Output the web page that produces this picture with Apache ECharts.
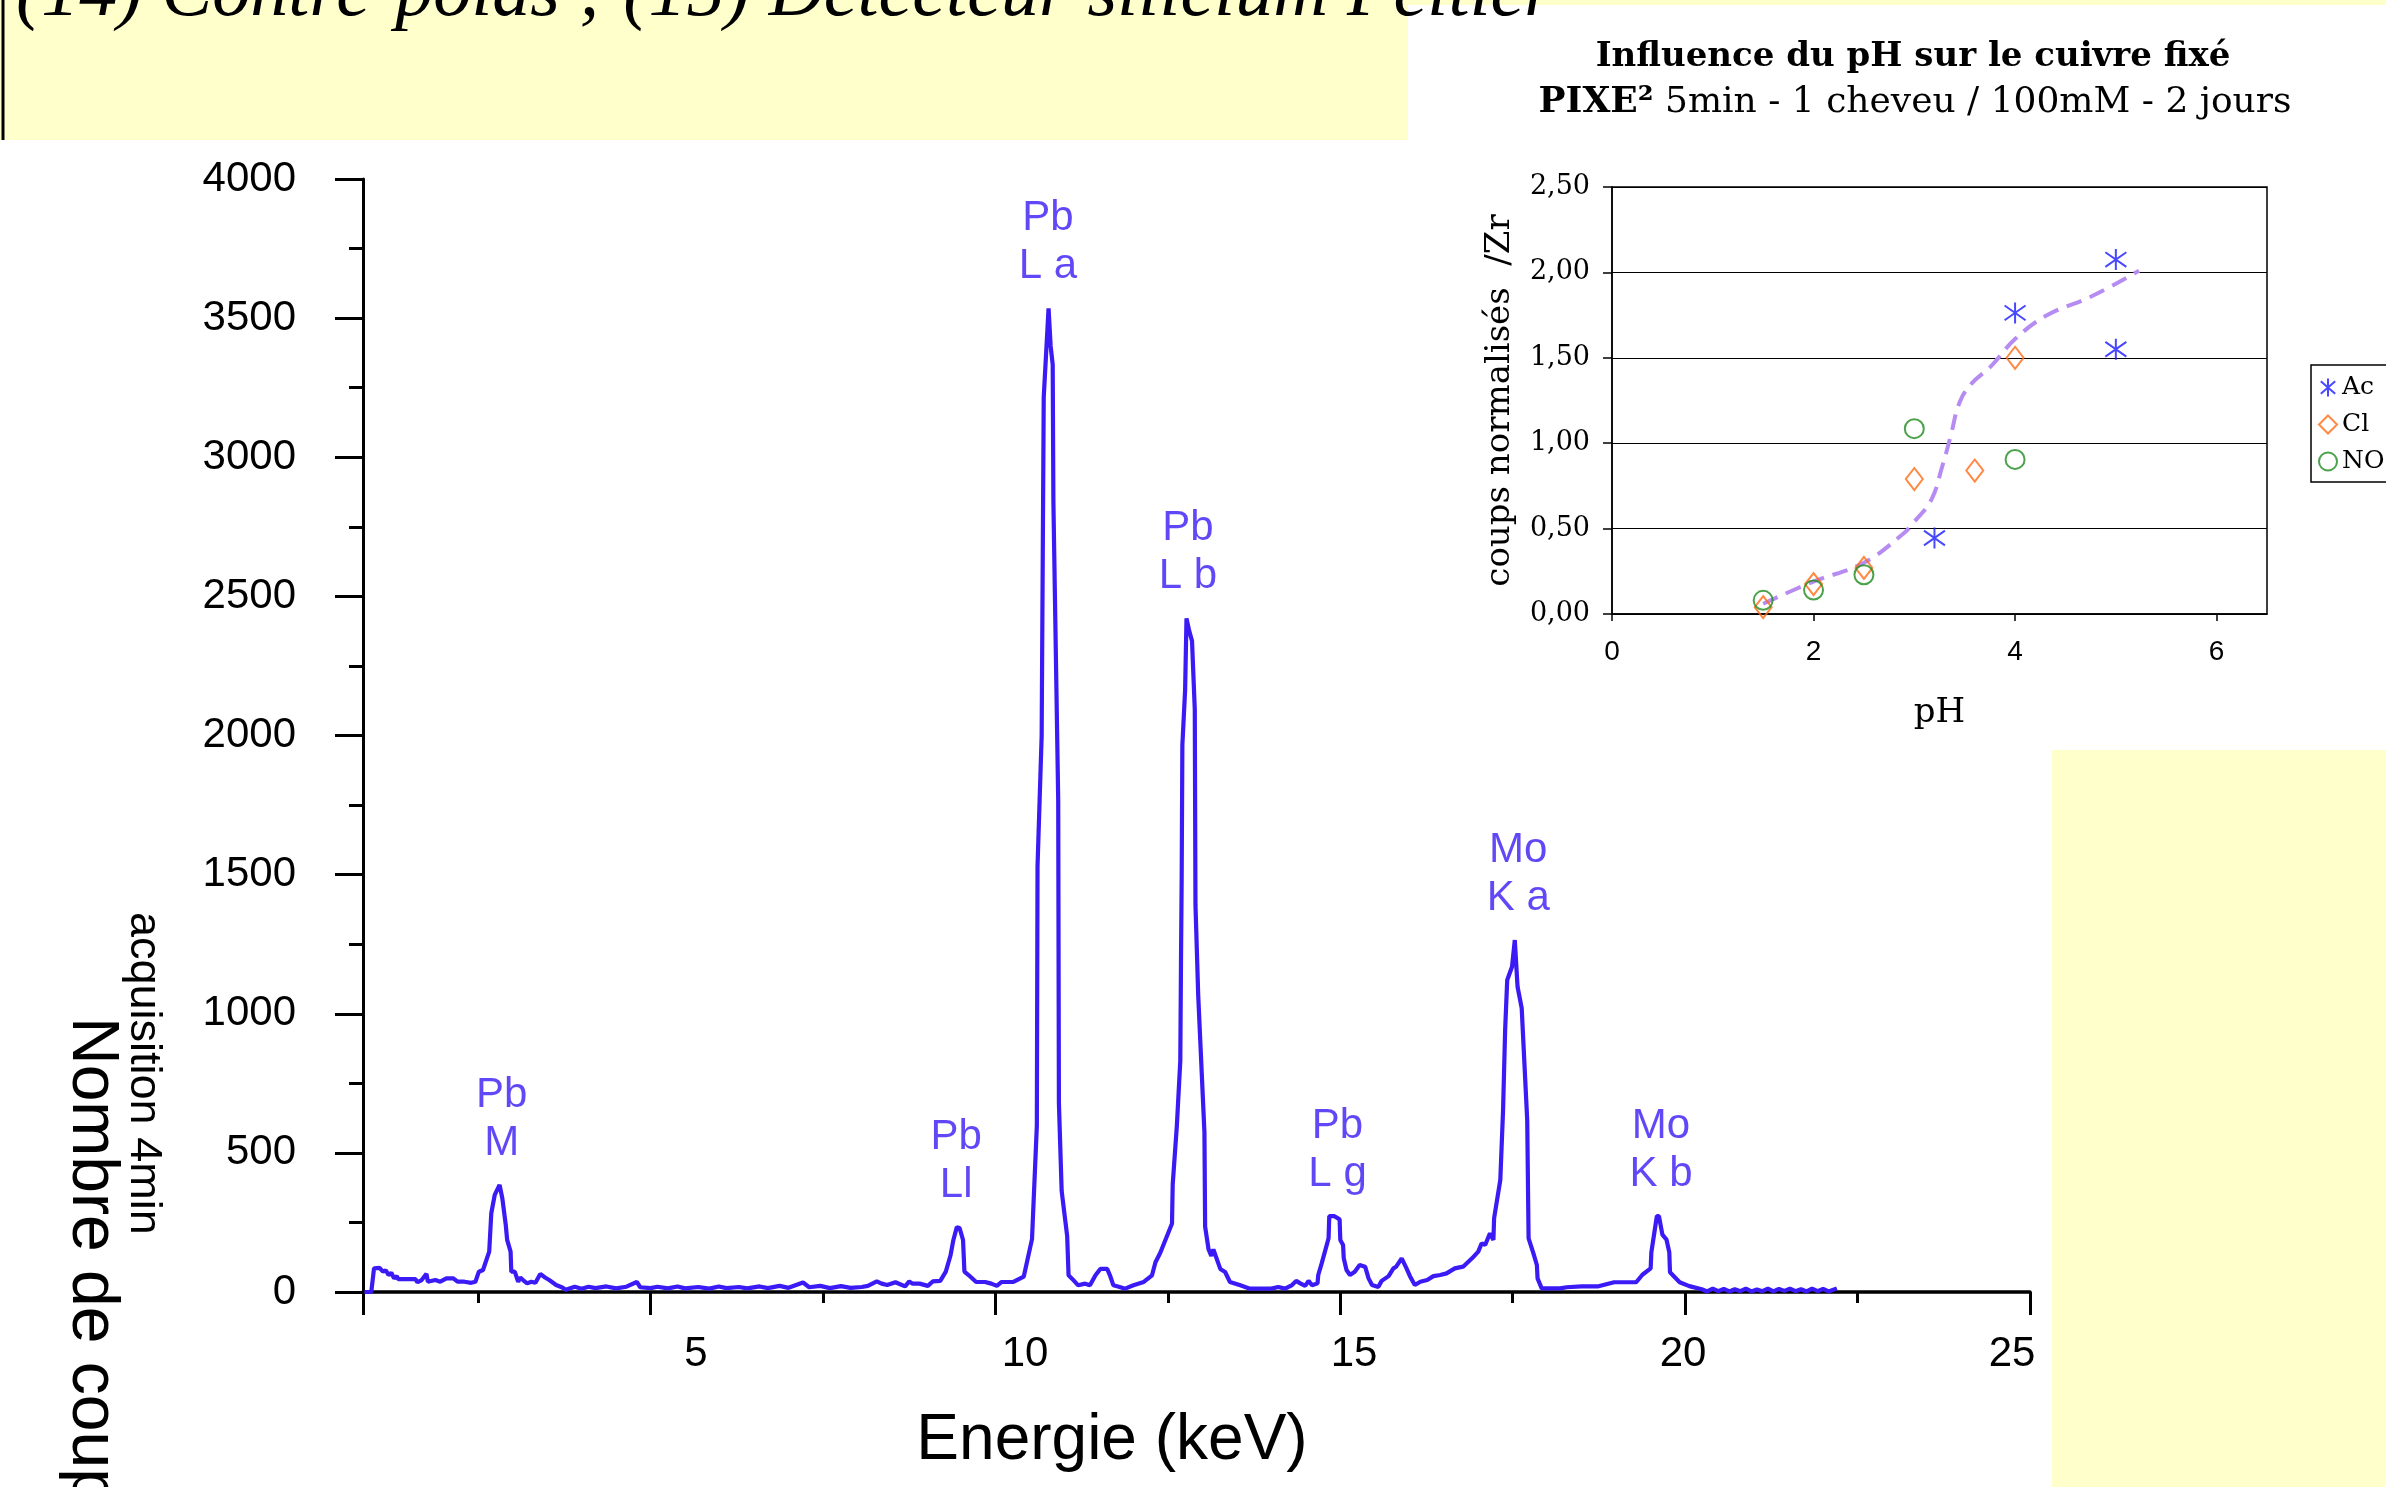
<!DOCTYPE html>
<html>
<head>
<meta charset="utf-8">
<script src="https://cdn.jsdelivr.net/npm/echarts@6/dist/echarts.min.js"></script>
<style>
  html, body { margin: 0; padding: 0; background: #fff; }
  #main { width: 2386px; height: 1487px; }
</style>
</head>
<body>
<div id="main"></div>
<script>
// spectre PIXE : energie (keV) / nombre de coups
var energy = [0.85, 0.95, 0.99, 1.07, 1.12, 1.16, 1.20, 1.24, 1.28, 1.32, 1.34, 1.45, 1.59, 1.62, 1.68, 1.75, 1.77, 1.88, 1.95, 2.04,
  2.14, 2.20, 2.30, 2.40, 2.46, 2.51, 2.57, 2.66, 2.69, 2.74, 2.81, 2.85, 2.90, 2.92, 2.97, 2.98, 3.03, 3.08, 3.11, 3.15,
  3.21, 3.27, 3.33, 3.40, 3.47, 3.53, 3.63, 3.72, 3.77, 3.90, 4.00, 4.10, 4.20, 4.36, 4.50, 4.65, 4.80, 4.85, 5.00, 5.10,
  5.25, 5.39, 5.50, 5.69, 5.85, 5.99, 6.10, 6.28, 6.40, 6.58, 6.70, 6.87, 7.00, 7.21, 7.30, 7.46, 7.60, 7.76, 7.90, 8.06,
  8.15, 8.28, 8.35, 8.43, 8.55, 8.69, 8.75, 8.80, 8.90, 9.02, 9.09, 9.20, 9.28, 9.35, 9.39, 9.44, 9.48, 9.53, 9.55, 9.61,
  9.72, 9.85, 9.94, 10.02, 10.09, 10.26, 10.41, 10.53, 10.60, 10.61, 10.67, 10.70, 10.77, 10.80, 10.83, 10.84, 10.91, 10.92, 10.96, 11.04,
  11.06, 11.11, 11.20, 11.30, 11.37, 11.45, 11.52, 11.62, 11.66, 11.71, 11.80, 11.88, 12.00, 12.15, 12.27, 12.32, 12.39, 12.56, 12.57, 12.63,
  12.68, 12.69, 12.70, 12.71, 12.75, 12.77, 12.81, 12.85, 12.89, 12.90, 12.94, 13.03, 13.04, 13.09, 13.13, 13.16, 13.26, 13.33, 13.40, 13.55,
  13.69, 13.84, 14.00, 14.10, 14.20, 14.30, 14.36, 14.42, 14.49, 14.54, 14.59, 14.67, 14.68, 14.73, 14.83, 14.84, 14.91, 14.99, 15.00, 15.04,
  15.05, 15.09, 15.14, 15.21, 15.28, 15.36, 15.41, 15.46, 15.55, 15.60, 15.70, 15.77, 15.81, 15.89, 15.96, 16.01, 16.08, 16.16, 16.26, 16.35,
  16.45, 16.54, 16.66, 16.78, 16.91, 17.00, 17.05, 17.10, 17.17, 17.22, 17.23, 17.32, 17.36, 17.39, 17.42, 17.49, 17.53, 17.57, 17.63, 17.71,
  17.73, 17.80, 17.85, 17.86, 17.92, 18.19, 18.28, 18.50, 18.73, 18.97, 19.29, 19.38, 19.50, 19.51, 19.56, 19.59, 19.62, 19.67, 19.73, 19.77,
  19.78, 19.92, 20.06, 20.24, 20.32, 20.40, 20.48, 20.56, 20.64, 20.72, 20.80, 20.88, 20.96, 21.04, 21.12, 21.20, 21.28, 21.36, 21.44, 21.52,
  21.60, 21.68, 21.76, 21.84, 21.92, 22.00, 22.08, 22.20];
var counts = [0, 0, 85, 87, 73, 78, 61, 69, 49, 57, 46, 46, 46, 35, 43, 65, 37, 43, 37, 49,
  49, 37, 37, 33, 37, 73, 79, 145, 283, 349, 385, 337, 241, 187, 145, 73, 73, 37, 52, 43,
  31, 37, 33, 65, 52, 43, 25, 16, 8, 19, 12, 19, 14, 20, 13, 19, 36, 17, 14, 19,
  13, 20, 13, 18, 12, 20, 14, 18, 13, 20, 14, 22, 15, 34, 17, 22, 14, 21, 15, 18,
  22, 38, 30, 25, 35, 20, 38, 30, 30, 22, 38, 40, 73, 133, 187, 233, 230, 187, 73, 61,
  36, 36, 30, 22, 36, 36, 55, 190, 597, 1530, 2000, 3216, 3535, 3400, 3333, 2843, 1766, 679, 363, 200,
  60, 48, 24, 30, 24, 60, 83, 83, 60, 24, 18, 12, 24, 36, 60, 107, 141, 246, 387, 597,
  831, 1182, 1486, 1965, 2164, 2421, 2375, 2340, 2094, 1392, 1065, 574, 235, 153, 130, 153, 83, 72, 36, 24,
  12, 12, 12, 18, 12, 25, 40, 31, 22, 40, 24, 31, 61, 103, 193, 273, 273, 261, 187, 169,
  121, 79, 61, 73, 97, 91, 49, 25, 18, 40, 57, 85, 91, 121, 85, 57, 25, 37, 43, 57,
  61, 67, 85, 91, 121, 145, 175, 169, 211, 187, 265, 403, 654, 942, 1121, 1169, 1265, 1097, 1020, 618,
  193, 139, 97, 49, 13, 13, 17, 20, 20, 35, 35, 62, 85, 143, 224, 273, 273, 206, 188, 143,
  71, 35, 21, 10, 2, 12, 3, 11, 2, 10, 3, 12, 2, 9, 3, 12, 2, 11, 4, 12,
  3, 10, 2, 12, 3, 11, 2, 13];

var peakNames = ['Pb\nM', 'Pb\nLl', 'Pb\nL a', 'Pb\nL b', 'Pb\nL g', 'Mo\nK a', 'Mo\nK b'];
var peakEnergy = [2.84, 9.43, 10.76, 12.79, 14.96, 17.58, 19.65];

var xMajorTicks = [0.83, 5, 10, 15, 20, 25];
var xMinorTicks = [2.5, 7.5, 12.5, 17.5, 22.5];
var xTickLabels = [5, 10, 15, 20, 25];
var yMinorTicks = [250, 750, 1250, 1750, 2250, 2750, 3250, 3750];

// encart : influence du pH
var phAc = [3.2, 4, 5, 5];
var valAc = [0.445, 1.763, 1.55, 2.075];
var phCl = [1.5, 2, 2.5, 3, 3.6, 4];
var valCl = [0.04, 0.175, 0.27, 0.79, 0.84, 1.50];
var phNO3 = [1.5, 2, 2.5, 3, 4];
var valNO3 = [0.08, 0.14, 0.23, 1.085, 0.905];
var phTrend = [1.5, 2.0, 2.5, 2.89, 3.0, 3.17, 3.28, 3.36, 3.45, 3.57, 3.76, 4.0, 4.32, 4.76, 5.23];
var valTrend = [0.06, 0.19, 0.30, 0.47, 0.54, 0.67, 0.87, 1.04, 1.24, 1.35, 1.45, 1.61, 1.75, 1.86, 2.01];
var phTicks = [0, 2, 4, 6];

var BLUE = '#3a1af5';
var SANS = 'Liberation Sans';
var SERIF = 'DejaVu Serif';
var YELLOW = '#ffffcc';

function zip(a, b) { return a.map(function (v, i) { return [v, b[i]]; }); }

function localMax(e0) {
  var m = 0;
  for (var i = 0; i < energy.length; i++) {
    if (Math.abs(energy[i] - e0) <= 0.15) m = Math.max(m, counts[i]);
  }
  return m;
}

var chart = echarts.init(document.getElementById('main'));

var option = {
  animation: false,
  backgroundColor: '#fff',
  grid: [
    { left: 363, top: 179, width: 1667, height: 1113 },      // spectre
    { left: 367, top: 179, width: 1645, height: 1113 },      // graduations du spectre
    { left: 1612, top: 187, width: 655, height: 427, show: true, borderColor: '#000', borderWidth: 1.5, backgroundColor: '#fff' }
  ],
  xAxis: [
    {
      gridIndex: 0, type: 'value', position: 'bottom', min: 0.83, max: 25,
      axisLine: { lineStyle: { color: '#000', width: 3.5 } },
      axisTick: { customValues: xMajorTicks, length: 23, lineStyle: { color: '#000', width: 3 } },
      axisLabel: { show: false }, splitLine: { show: false }
    },
    {
      gridIndex: 0, type: 'value', position: 'bottom', min: 0.83, max: 25,
      axisLine: { show: false },
      axisTick: { customValues: xMinorTicks, length: 11, lineStyle: { color: '#000', width: 3 } },
      axisLabel: { show: false }, splitLine: { show: false }
    },
    {
      gridIndex: 1, type: 'value', position: 'bottom', min: 0, max: 25,
      axisLine: { show: false }, axisTick: { show: false }, splitLine: { show: false },
      axisLabel: { customValues: xTickLabels, color: '#000', fontFamily: SANS, fontSize: 42, margin: 41 }
    },
    {
      gridIndex: 2, type: 'value', position: 'bottom', min: 0, max: 6.5,
      axisLine: { lineStyle: { color: '#000', width: 1.5 } },
      axisTick: { customValues: phTicks, length: 7, lineStyle: { color: '#000', width: 1.5 } },
      axisLabel: { customValues: phTicks, color: '#000', fontFamily: SANS, fontSize: 28, margin: 24 },
      splitLine: { show: false },
      name: 'pH', nameLocation: 'middle', nameGap: 82,
      nameTextStyle: { color: '#000', fontFamily: SERIF, fontSize: 34 }
    }
  ],
  yAxis: [
    {
      gridIndex: 0, type: 'value', position: 'left', min: 0, max: 4000, interval: 500,
      axisLine: { lineStyle: { color: '#000', width: 3 } },
      axisTick: { length: 28, lineStyle: { color: '#000', width: 3 } },
      axisLabel: { color: '#000', fontFamily: SANS, fontSize: 42, margin: 67, formatter: function (v) { return String(v); } },
      splitLine: { show: false }
    },
    {
      gridIndex: 0, type: 'value', position: 'left', min: 0, max: 4000,
      axisLine: { show: false },
      axisTick: { customValues: yMinorTicks, length: 14, lineStyle: { color: '#000', width: 3 } },
      axisLabel: { show: false }, splitLine: { show: false }
    },
    { gridIndex: 1, type: 'value', min: 0, max: 1, show: false },
    {
      gridIndex: 2, type: 'value', position: 'left', min: 0, max: 2.5, interval: 0.5,
      axisLine: { lineStyle: { color: '#000', width: 1.5 } },
      axisTick: { length: 9, lineStyle: { color: '#000', width: 1.5 } },
      axisLabel: {
        color: '#000', fontFamily: SERIF, fontSize: 27, margin: 22,
        formatter: function (v) { return v.toFixed(2).replace('.', ','); }
      },
      splitLine: { show: true, lineStyle: { color: '#000', width: 1.2 } },
      name: 'coups normalisés  /Zr', nameLocation: 'middle', nameGap: 95,
      nameTextStyle: { color: '#000', fontFamily: SERIF, fontSize: 34 }
    }
  ],
  legend: {
    data: ['Ac', 'Cl', 'NO3'],
    orient: 'vertical', left: 2311, top: 365,
    padding: [10, 40, 8, 7], itemGap: 12, itemWidth: 18, itemHeight: 18,
    backgroundColor: '#fff', borderColor: '#000', borderWidth: 1.5, borderRadius: 0,
    textStyle: { color: '#000', fontFamily: SERIF, fontSize: 25 }
  },
  series: [
    {
      name: 'spectre', type: 'line', xAxisIndex: 0, yAxisIndex: 0,
      data: zip(energy, counts), showSymbol: false, symbol: 'none',
      lineStyle: { color: BLUE, width: 4.2 }, z: 3
    },
    {
      name: 'pics', type: 'scatter', xAxisIndex: 0, yAxisIndex: 0,
      symbolSize: 1, itemStyle: { color: 'transparent' }, silent: true,
      data: peakNames.map(function (n, i) {
        return { name: n, value: [peakEnergy[i], localMax(peakEnergy[i])] };
      }),
      label: {
        show: true, position: 'top', distance: 17,
        formatter: function (p) { return p.name; },
        color: BLUE, fontFamily: SANS, fontSize: 42, lineHeight: 48, align: 'center'
      }
    },
    {
      name: 'tendance', type: 'line', xAxisIndex: 3, yAxisIndex: 3,
      data: zip(phTrend, valTrend), smooth: 0.4, showSymbol: false, symbol: 'none',
      lineStyle: { color: '#b78cf2', width: 4, type: [16, 9] }, z: 2
    },
    {
      name: 'Ac', type: 'scatter', xAxisIndex: 3, yAxisIndex: 3,
      data: zip(phAc, valAc),
      symbol: 'path://M10,0L10,20M2,3L18,17M2,17L18,3', symbolSize: 21,
      itemStyle: { color: 'transparent', borderColor: '#1a1aff', borderWidth: 2 }, z: 4
    },
    {
      name: 'Cl', type: 'scatter', xAxisIndex: 3, yAxisIndex: 3,
      data: zip(phCl, valCl),
      symbol: 'diamond', symbolSize: [17, 22],
      itemStyle: { color: 'transparent', borderColor: '#ff6a13', borderWidth: 2 }, z: 4
    },
    {
      name: 'NO3', type: 'scatter', xAxisIndex: 3, yAxisIndex: 3,
      data: zip(phNO3, valNO3),
      symbol: 'circle', symbolSize: 19,
      itemStyle: { color: 'transparent', borderColor: '#1e8b1e', borderWidth: 2 }, z: 4
    }
  ],
  graphic: [
    { type: 'rect', z: -10, shape: { x: 0, y: 0, width: 1408, height: 140 }, style: { fill: YELLOW } },
    { type: 'rect', z: -10, shape: { x: 1408, y: 0, width: 978, height: 5 }, style: { fill: YELLOW } },
    { type: 'rect', z: -10, shape: { x: 2052, y: 750, width: 334, height: 737 }, style: { fill: YELLOW } },
    { type: 'line', z: -5, shape: { x1: 3, y1: 0, x2: 3, y2: 140 }, style: { stroke: '#000', lineWidth: 3 } },
    {
      type: 'text', x: 16, y: -5,
      style: {
        text: '(14) Contre-poids ; (15) Détecteur silicium Peltier',
        fontFamily: 'Liberation Serif', fontStyle: 'italic', fontSize: 76, fill: '#000',
        align: 'left', verticalAlign: 'middle'
      }
    },
    {
      type: 'text', x: 1112, y: 1441,
      style: { text: 'Energie (keV)', fontFamily: SANS, fontSize: 64, fill: '#000', align: 'center', verticalAlign: 'middle' }
    },
    {
      type: 'text', x: 91, y: 1017, rotation: -Math.PI / 2,
      style: { text: 'Nombre de coups', fontFamily: SANS, fontSize: 66, fill: '#000', align: 'left', verticalAlign: 'middle' }
    },
    {
      type: 'text', x: 143, y: 912, rotation: -Math.PI / 2,
      style: { text: 'acquisition 4min', fontFamily: SANS, fontSize: 45, fill: '#000', align: 'left', verticalAlign: 'middle' }
    },
    {
      type: 'text', x: 1913, y: 57,
      style: {
        text: 'Influence du pH sur le cuivre fixé',
        fontFamily: SERIF, fontWeight: 'bold', fontSize: 34, fill: '#000', align: 'center', verticalAlign: 'middle'
      }
    },
    {
      type: 'text', x: 1915, y: 103,
      style: {
        text: '{b|PIXE²}{n| 5min - 1 cheveu / 100mM - 2 jours}',
        fontFamily: SERIF, fontSize: 36, fill: '#000', align: 'center', verticalAlign: 'middle',
        rich: {
          b: { fontFamily: SERIF, fontSize: 36, fontWeight: 'bold', fill: '#000' },
          n: { fontFamily: SERIF, fontSize: 36, fill: '#000' }
        }
      }
    }
  ]
};

chart.setOption(option);
</script>
</body>
</html>
